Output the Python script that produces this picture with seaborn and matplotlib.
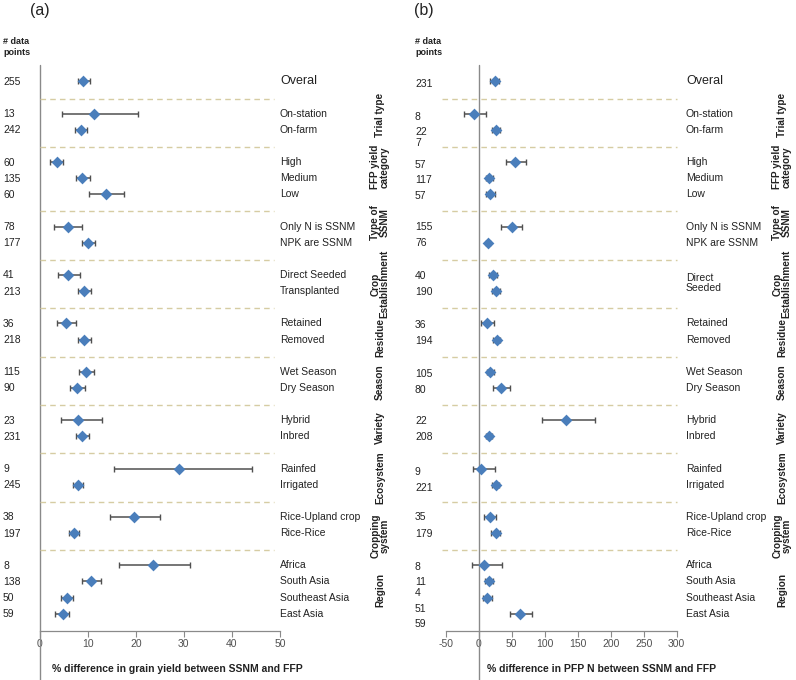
import numpy as np
import pandas as pd
import matplotlib
matplotlib.use("Agg")
import matplotlib.pyplot as plt
import matplotlib.transforms as mtransforms
import seaborn as sns

# grupos y categorias
group_names = ["Trial type", "FFP yield\ncategory", "Type of\nSSNM", "Crop\nEstablishment",
               "Residue", "Season", "Variety", "Ecosystem", "Cropping\nsystem", "Region"]
group_sizes = [2, 3, 2, 2, 2, 2, 2, 2, 2, 4]
group_label_shift = [-0.4, -0.7, -0.75, 0.05, 0.4, 0.15, -0.05, 0.05, 0.65, 0.0]

categories_a = ["Overal", "On-station", "On-farm", "High", "Medium", "Low",
                "Only N is SSNM", "NPK are SSNM", "Direct Seeded", "Transplanted",
                "Retained", "Removed", "Wet Season", "Dry Season", "Hybrid", "Inbred",
                "Rainfed", "Irrigated", "Rice-Upland crop", "Rice-Rice",
                "Africa", "South Asia", "Southeast Asia", "East Asia"]
categories_b = ["Overal", "On-station", "On-farm", "High", "Medium", "Low",
                "Only N is SSNM", "NPK are SSNM", "Direct\nSeeded", "",
                "Retained", "Removed", "Wet Season", "Dry Season", "Hybrid", "Inbred",
                "Rainfed", "Irrigated", "Rice-Upland crop", "Rice-Rice",
                "Africa", "South Asia", "Southeast Asia", "East Asia"]

counts_a = ["255", "13", "242", "60", "135", "60", "78", "177", "41", "213", "36", "218",
            "115", "90", "23", "231", "9", "245", "38", "197", "8", "138", "50", "59"]
counts_b = ["231", "8", "22\n7", "57", "117", "57", "155", "76", "40", "190", "36", "194",
            "105", "80", "22", "208", "9", "221", "35", "179", "8", "11\n4", "51", "59"]
count_shift_b = [0.1, 0.2, 0.1, 0.15, 0.1, 0.1, 0.0, 0.0, 0.05, 0.05, 0.1, 0.05,
                 0.1, 0.1, 0.0, 0.0, 0.2, 0.15, 0.0, 0.0, 0.1, 0.0, 0.7, 0.6]

# (a) % diferencia en rendimiento de grano
mean_a = [9.1, 11.2, 8.6, 3.5, 8.9, 13.7, 5.8, 10.0, 5.9, 9.2, 5.5, 9.3,
          9.7, 7.8, 8.0, 8.8, 29.0, 8.0, 19.6, 7.2, 23.5, 10.7, 5.7, 4.8]
low_a = [7.9, 4.7, 7.3, 2.1, 7.6, 10.2, 3.0, 8.8, 3.8, 7.9, 3.7, 8.0,
         8.1, 6.3, 4.4, 7.6, 15.5, 7.0, 14.7, 6.2, 16.6, 8.8, 4.5, 3.2]
high_a = [10.5, 20.5, 9.9, 4.8, 10.5, 17.5, 8.8, 11.5, 8.4, 10.6, 7.6, 10.7,
          11.4, 9.4, 13.0, 10.2, 44.1, 9.1, 25.0, 8.2, 31.3, 12.8, 6.9, 6.1]

# (b) % diferencia en PFP N
mean_b = [24.2, -6.6, 26.3, 55.6, 15.7, 17.2, 51.0, 14.1, 21.7, 25.8, 12.6, 27.3,
          17.7, 33.8, 131.8, 16.2, 4.0, 26.3, 17.2, 25.8, 8.6, 15.2, 12.6, 62.6]
low_b = [17.7, -22.0, 20.7, 41.4, 10.6, 10.6, 34.3, 11.0, 15.7, 19.7, 4.0, 21.7,
         12.1, 21.7, 96.5, 11.6, -9.1, 20.2, 8.1, 18.7, -10.1, 9.6, 6.1, 47.0]
high_b = [30.8, 10.6, 31.8, 71.7, 22.2, 24.2, 66.2, 17.5, 27.8, 31.8, 22.7, 32.8,
          23.7, 47.5, 176.3, 20.7, 25.3, 31.3, 26.3, 32.8, 34.8, 21.2, 19.7, 80.8]

xlabel_a = "% difference in grain yield between SSNM and FFP"
xlabel_b = "% difference in PFP N between SSNM and FFP"

sns.set_style("white")
plt.rcParams["font.family"] = ["Liberation Sans", "DejaVu Sans"]

W, H = 796, 680
fig = plt.figure(figsize=(W / 100, H / 100), dpi=100)


def layout(sizes):
    pos, seps, cur = [0], [], 0
    for n in sizes:
        cur += 1
        seps.append(cur + 0.06)
        for _ in range(n):
            cur += 1
            pos.append(cur)
    return pos, seps


pos, seps = layout(group_sizes)
blue = "#4a7ebb"
grey = "#8a8a8a"


def panel(left_px, right_px, xlim, ticks, cats, counts, cshift, mean, low, high,
          cat_x, sep_x, count_x, group_x, tag, tag_x, xlabel, xlabel_x):
    ax = fig.add_axes([left_px / W, (H - 631) / H, (right_px - left_px) / W, (631 - 65) / H])
    df = pd.DataFrame({"pos": pos, "mean": mean, "low": low, "high": high})
    err = [df["mean"] - df["low"], df["high"] - df["mean"]]
    ax.errorbar(df["mean"], df["pos"], xerr=err, fmt="none", ecolor="#505050",
                elinewidth=1.1, capsize=2.5, capthick=1, zorder=2)
    sns.scatterplot(data=df, x="mean", y="pos", marker="D", s=36, color=blue,
                    edgecolor=blue, linewidth=0, zorder=3, ax=ax)
    ax.set_xlim(*xlim)
    ax.set_ylim(34.07, -1.02)
    ax.set_xticks(ticks)
    ax.set_xticklabels([str(t) for t in ticks])
    ax.set_yticks([])
    ax.set_xlabel("")
    ax.set_ylabel("")
    for s in ["top", "right", "left"]:
        ax.spines[s].set_visible(False)
    ax.spines["bottom"].set_color(grey)
    ax.spines["bottom"].set_linewidth(0.9)
    ax.tick_params(axis="x", direction="out", length=4, width=0.8, color=grey,
                   labelsize=7.5, labelcolor="#505050", pad=2, bottom=True)
    ax.axvline(0, ymin=-0.087, ymax=1, clip_on=False, color=grey, lw=1)
    ax.hlines(seps, sep_x[0], sep_x[1], colors="#d6cca3", linestyles=(0, (4, 3)),
              lw=1, clip_on=False)

    tr_fig_y = mtransforms.blended_transform_factory(fig.transFigure, ax.transData)
    tr_ax_y = mtransforms.blended_transform_factory(ax.transAxes, ax.transData)
    for i, (p, c, n) in enumerate(zip(pos, cats, counts)):
        if c == "Overal":
            ax.text(cat_x, p, c, transform=tr_ax_y, ha="left", va="center",
                    fontsize=9, color="#222222")
        elif "\n" in c:
            ax.text(cat_x, p - 0.15, c, transform=tr_ax_y, ha="left", va="top",
                    fontsize=7.5, color="#222222", linespacing=1.0)
        else:
            ax.text(cat_x, p, c, transform=tr_ax_y, ha="left", va="center",
                    fontsize=7.5, color="#222222")
        ax.text(count_x / W, p - 0.28 + cshift[i], n, transform=tr_fig_y, ha="left",
                va="top", fontsize=7.5, color="#222222", linespacing=1.15)

    start = 1
    for g, n, sh in zip(group_names, group_sizes, group_label_shift):
        yc = np.mean(pos[start:start + n]) + sh
        ax.text(group_x / W, yc, g, transform=tr_fig_y, rotation=90, ha="center",
                va="center", fontsize=7.2, fontweight="bold", color="#222222",
                linespacing=0.95)
        start += n

    fig.text(count_x / W, 1 - 47 / H, "# data\npoints", ha="left", va="center",
             fontsize=6.5, fontweight="bold", color="#222222", linespacing=1.2)
    fig.text(tag_x / W, 1 - 10 / H, tag, ha="left", va="center", fontsize=11.5,
             color="#222222")
    fig.text(xlabel_x / W, 1 - 669 / H, xlabel, ha="left", va="center",
             fontsize=7.5, fontweight="bold", color="#222222")
    return ax


panel(39.7, 280, (0, 50), list(range(0, 51, 10)), categories_a, counts_a,
      [0.0] * len(counts_a), mean_a, low_a, high_a,
      cat_x=1.0, sep_x=(0, 48.7), count_x=3, group_x=380, tag="(a)", tag_x=30,
      xlabel=xlabel_a, xlabel_x=52)
panel(445.7, 676.7, (-50, 300), list(range(-50, 301, 50)), categories_b, counts_b,
      count_shift_b, mean_b, low_b, high_b,
      cat_x=1.04, sep_x=(-55, 300), count_x=415, group_x=782, tag="(b)", tag_x=414,
      xlabel=xlabel_b, xlabel_x=487)

fig.savefig("out.png", dpi=100)
